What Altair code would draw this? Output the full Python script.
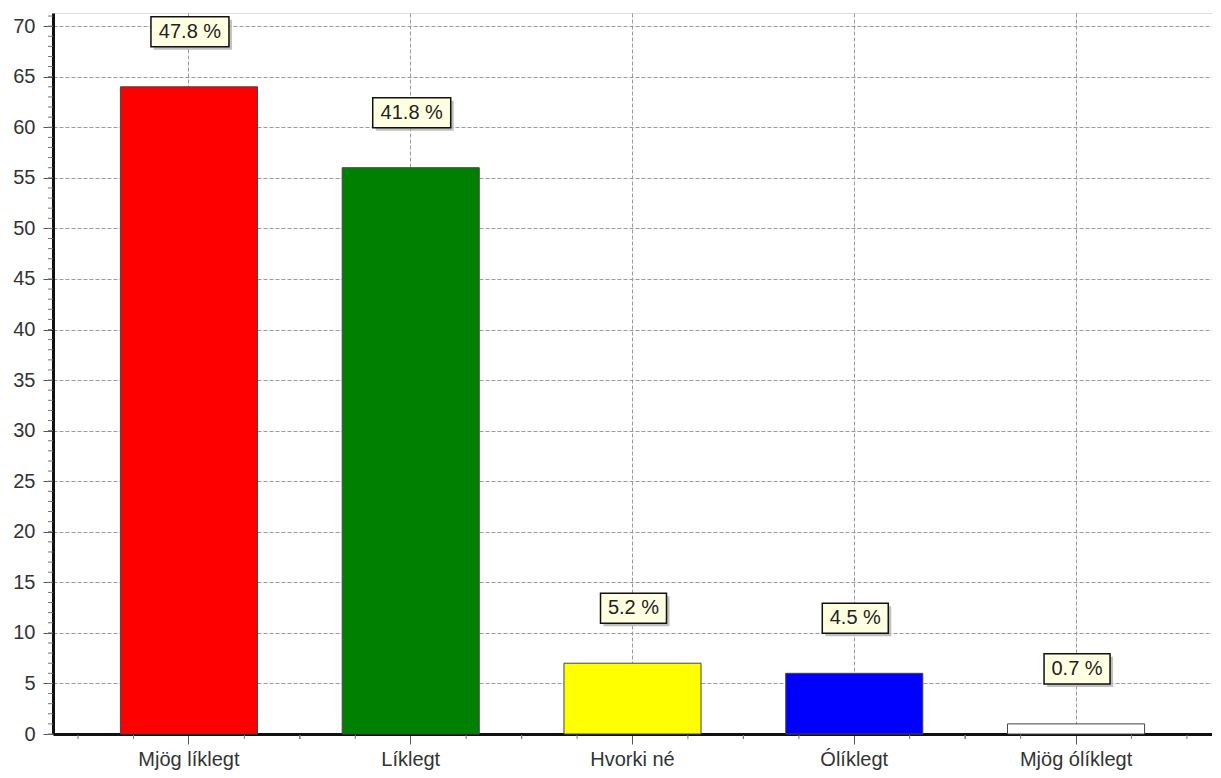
import altair as alt
import pandas as pd

categories = ["Mjög líklegt", "Líklegt", "Hvorki né", "Ólíklegt", "Mjög ólíklegt"]
counts = [64, 56, 7, 6, 1]
percent_labels = ["47.8 %", "41.8 %", "5.2 %", "4.5 %", "0.7 %"]
bar_colors = ["#FF0000", "#008000", "#FFFF00", "#0000FF", "#FFFFFF"]
y_ticks = list(range(0, 71, 5))
y_minor = list(range(0, 72))

df = pd.DataFrame({"cat": categories, "n": counts, "label": percent_labels, "color": bar_colors})
df_minor = pd.DataFrame({"v": y_minor})
df_cats = pd.DataFrame({"cat": categories})

FONT = "Liberation Sans"
W, H = 1159, 721
YMAX = 71.3

xscale = alt.Scale(domain=categories, paddingInner=0.382, paddingOuter=0.304)
yscale = alt.Scale(domain=[0, YMAX], nice=False, zero=True)

x_axis = alt.Axis(
    title=None, labelAngle=0, labelFont=FONT, labelFontSize=20, labelColor="#333",
    labelPadding=5, tickSize=10, tickColor="#555", tickWidth=1,
    domainColor="#111", domainWidth=3,
    grid=True, gridDash=[4, 2], gridColor="#9a9a9a", gridWidth=1, bandPosition=0.5,
)
y_axis = alt.Axis(
    title=None, values=y_ticks, labelFont=FONT, labelFontSize=20, labelColor="#333",
    labelPadding=8, tickSize=10, tickColor="#555", tickWidth=1,
    domainColor="#111", domainWidth=3,
    grid=True, gridDash=[4, 2], gridColor="#9a9a9a", gridWidth=1,
)

bars = alt.Chart(df).mark_bar(stroke="#444", strokeWidth=1).encode(
    x=alt.X("cat:N", scale=xscale, sort=categories, axis=x_axis),
    y=alt.Y("n:Q", scale=yscale, axis=y_axis),
    color=alt.Color("color:N", scale=None),
)

wide_path = "M-1,-0.385H1V0.385H-1Z"
narrow_path = "M-0.846,-0.385H0.846V0.385H-0.846Z"

box_base = alt.Chart(df).transform_calculate(
    shp=f"length(datum.label) > 5 ? '{wide_path}' : '{narrow_path}'"
)

shadow = box_base.mark_point(
    filled=True, fill="#b0b0b0", opacity=0.8, size=6084, strokeWidth=0,
    yOffset=-52, xOffset=4,
).encode(
    x=alt.X("cat:N", scale=xscale, sort=categories, bandPosition=0.5),
    y=alt.Y("n:Q", scale=yscale),
    shape=alt.Shape("shp:N", scale=None),
)

boxes = box_base.mark_point(
    filled=True, fill="#FFFFE1", stroke="#111", strokeWidth=1.5, opacity=1, size=6084,
    yOffset=-55, xOffset=1,
).encode(
    x=alt.X("cat:N", scale=xscale, sort=categories, bandPosition=0.5),
    y=alt.Y("n:Q", scale=yscale),
    shape=alt.Shape("shp:N", scale=None),
)

texts = alt.Chart(df).mark_text(
    font=FONT, fontSize=20, color="#222", align="center", baseline="middle",
    yOffset=-55, xOffset=1,
).encode(
    x=alt.X("cat:N", scale=xscale, sort=categories, bandPosition=0.5),
    y=alt.Y("n:Q", scale=yscale),
    text="label:N",
)

y_minor_ticks = alt.Chart(df_minor).mark_rule(color="#777", strokeWidth=1).encode(
    y=alt.Y("v:Q", scale=yscale),
    x=alt.value(-5),
    x2=alt.value(0),
)

x_minor_layers = []
for off in [-110.9, -55.4, 55.4, 110.9]:
    x_minor_layers.append(
        alt.Chart(df_cats).mark_rule(color="#777", strokeWidth=1, xOffset=off).encode(
            x=alt.X("cat:N", scale=xscale, sort=categories, bandPosition=0.5),
            y=alt.value(H + 1),
            y2=alt.value(H + 5),
        )
    )

chart = alt.layer(bars, y_minor_ticks, *x_minor_layers, shadow, boxes, texts).properties(
    width=W, height=H,
    autosize=alt.AutoSizeParams(type="none"),
    padding={"left": 45, "top": 5, "right": 0, "bottom": 36},
).configure_view(
    stroke="#111", strokeWidth=2,
).configure(background="white")

chart.save("out.html", embed_options={"renderer": "svg", "actions": False})
